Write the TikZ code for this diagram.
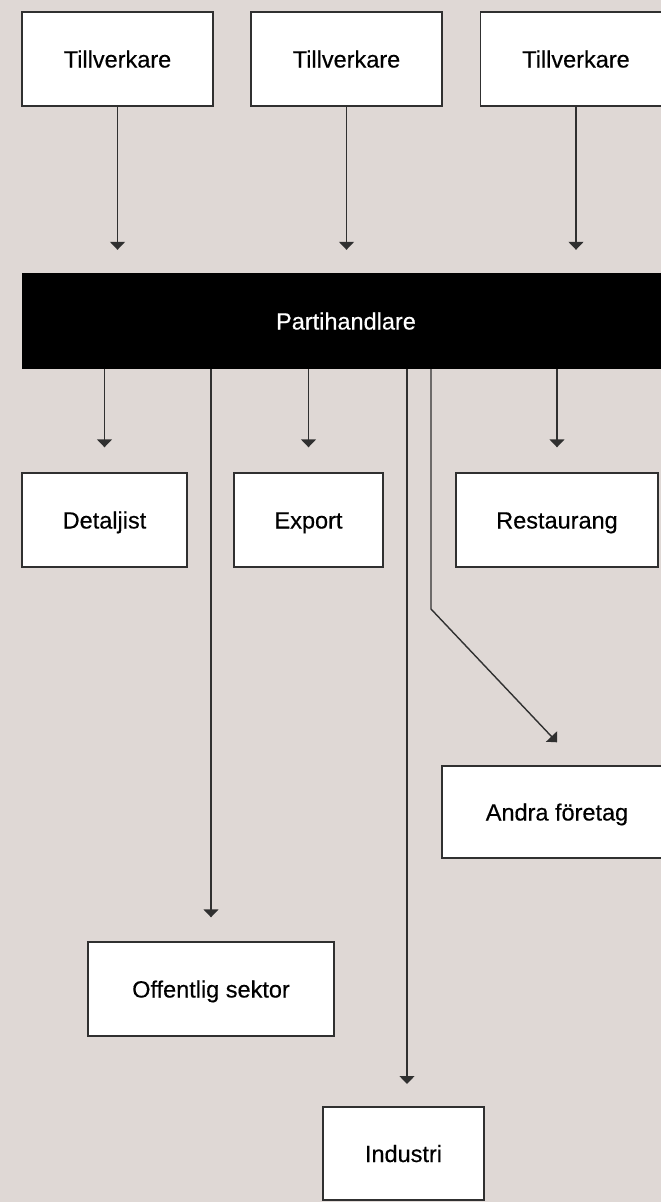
\documentclass[tikz,border=0pt]{standalone}
\usepackage{fontspec}
\setmainfont{Liberation Sans}
\newfontfamily\lblfont{Liberation Sans}[FakeBold=0.4]
\usetikzlibrary{arrows.meta}
\definecolor{bg}{HTML}{DFD8D5}
\definecolor{ln}{HTML}{303030}
\begin{document}
\begin{tikzpicture}[x=1pt,y=-1pt,
  lbl/.style={font=\lblfont\fontsize{23.5}{28}\selectfont, text height=17pt, text depth=0pt},
  box/.style={lbl, draw=ln, line width=1.4pt, fill=white, minimum height=94pt,
    inner sep=0pt, text=black},
  conn/.style={draw=ln, line width=1.4pt, -{Triangle[width=15pt,length=8pt]}}]
\useasboundingbox (0,0) rectangle (661,1202);
\fill[bg] (0,0) rectangle (661,1202);
\clip (0,0) rectangle (661,1202);
% top row
\node[box, minimum width=191pt] (t1) at (117.5,59) {Tillverkare};
\node[box, minimum width=191pt] (t2) at (346.5,59) {Tillverkare};
\node[box, minimum width=191pt] (t3) at (576,59) {Tillverkare};
% wholesaler bar
\node[lbl, fill=black, text=white, minimum width=648pt, minimum height=96pt, inner sep=0pt] (ph) at (346,321) {Partihandlare};
% second row
\node[box, minimum width=165pt] (det) at (104.5,520) {Detaljist};
\node[box, minimum width=149pt] (exp) at (308.5,520) {Export};
\node[box, minimum width=202pt] (res) at (557,520) {Restaurang};
\node[box, minimum width=230pt, minimum height=92pt] (and) at (557,812) {Andra företag};
\node[box, minimum width=246pt] (off) at (211,989) {Offentlig sektor};
\node[box, minimum width=161pt, minimum height=93pt] (ind) at (403.5,1153.5) {Industri};
% connectors
\draw[conn, shorten >=23pt] (t1.south) -- (t1.south |- ph.north);
\draw[conn, shorten >=23pt] (t2.south) -- (t2.south |- ph.north);
\draw[conn, shorten >=23pt] (t3.south) -- (t3.south |- ph.north);
\draw[conn, shorten >=25pt] (det.north |- ph.south) -- (det.north);
\draw[conn, shorten >=25pt] (exp.north |- ph.south) -- (exp.north);
\draw[conn, shorten >=25pt] (res.north |- ph.south) -- (res.north);
\draw[conn, shorten >=24pt] (off.north |- ph.south) -- (off.north);
\coordinate (indx) at (407,1107);
\draw[conn, shorten >=23pt] (indx |- ph.south) -- (indx);
\coordinate (bend) at (431,609);
\coordinate (andtip) at ([yshift=23pt]and.north);
\draw[conn] (bend |- ph.south) -- (bend) -- (andtip);
\end{tikzpicture}
\end{document}
